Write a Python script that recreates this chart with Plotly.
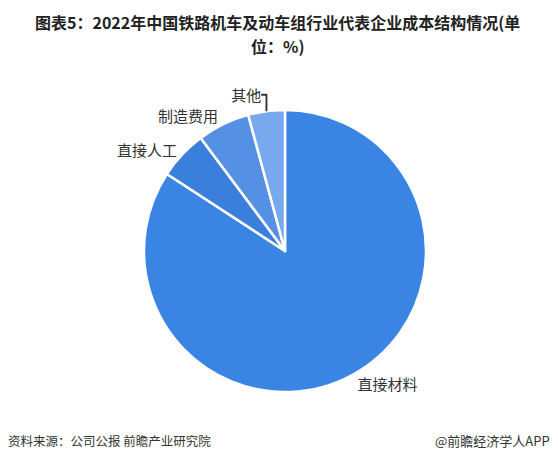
import plotly.graph_objects as go

categories = ["直接材料", "直接人工", "制造费用", "其他"]
values = [84.2, 5.6, 6.0, 4.2]
colors = ["#3a85e3", "#3b7fdc", "#5590e4", "#78a9ee"]

# page body has an 8px default margin; lay out in reference pixel coordinates
OFF = 8
W, H = 558 - OFF, 462 - OFF
cx, cy, r = 285 - OFF, 251 - OFF, 141


def px(x):
    return (x - OFF) / W


def py(y):
    return 1 - (y - OFF) / H


fig = go.Figure(go.Pie(
    labels=categories,
    values=values,
    sort=False,
    direction="clockwise",
    rotation=0,
    textinfo="label",
    textposition="outside",
    textfont=dict(size=15, color="#333333", family="Noto Sans CJK SC"),
    marker=dict(colors=colors, line=dict(color="#ffffff", width=2.5)),
    hoverinfo="label+value",
    showlegend=False,
    domain=dict(x=[(cx - r) / W, (cx + r) / W], y=[1 - (cy + r) / H, 1 - (cy - r) / H]),
))

title_font = dict(size=16, color="#222222")
fig.update_layout(
    width=W, height=H,
    margin=dict(l=0, r=0, t=0, b=0),
    paper_bgcolor="#ffffff",
    font=dict(family="Noto Sans CJK SC", color="#333333"),
    annotations=[
        dict(text="<b>图表5：2022年中国铁路机车及动车组行业代表企业成本结构情况(单</b>",
             x=px(277), y=py(9), xref="paper", yref="paper", xanchor="center", yanchor="top",
             showarrow=False, font=title_font, borderpad=0),
        dict(text="<b>位：%)</b>",
             x=px(277), y=py(33), xref="paper", yref="paper", xanchor="center", yanchor="top",
             showarrow=False, font=title_font, borderpad=0),
        dict(text="资料来源：公司公报 前瞻产业研究院", x=px(6), y=py(440), xref="paper", yref="paper",
             xanchor="left", yanchor="middle", showarrow=False, font=dict(size=12.5, color="#333333")),
        dict(text="@前瞻经济学人APP", x=px(552), y=py(440), xref="paper", yref="paper",
             xanchor="right", yanchor="middle", showarrow=False, font=dict(size=13, color="#333333")),
    ],
)

fig.write_html("out.html")
